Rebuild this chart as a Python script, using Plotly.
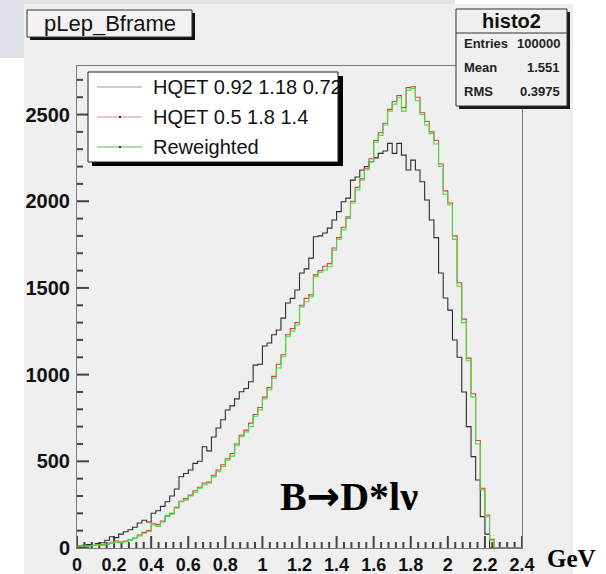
import plotly.graph_objects as go

# ---------------- data ----------------
BIN_LOW = 0.0
BIN_WIDTH = 0.025
N_BINS = 96

hqet_092 = [10, 15, 20, 15, 25, 30, 45, 65, 60, 80,
            94, 105, 120, 144, 160, 150, 200, 215, 240, 267,
            300, 340, 411, 430, 450, 488, 500, 584, 560, 640,
            692, 740, 796, 820, 860, 901, 920, 959, 1055, 1060,
            1165, 1182, 1230, 1257, 1326, 1413, 1440, 1488, 1586, 1610,
            1672, 1795, 1800, 1817, 1845, 1892, 1940, 1997, 2018, 2122,
            2140, 2180, 2200, 2228, 2250, 2276, 2290, 2334, 2276, 2334,
            2266, 2180, 2237, 2180, 2112, 2007, 1892, 1790, 1586, 1442,
            1372, 1200, 1100, 900, 700, 527, 392, 181, 80, 0,
            0, 0, 0, 0, 0, 0]

hqet_05 = [12, 10, 12, 14, 20, 18, 22, 30, 40, 35,
           40, 48, 58, 75, 90, 100, 140, 135, 155, 185,
           200, 235, 270, 285, 305, 330, 350, 375, 380, 420,
           450, 480, 515, 545, 600, 650, 680, 720, 770, 810,
           870, 925, 990, 1060, 1115, 1230, 1265, 1300, 1400, 1440,
           1460, 1575, 1600, 1625, 1640, 1730, 1790, 1850, 1910, 2000,
           2080, 2130, 2190, 2245, 2350, 2395, 2450, 2530, 2575, 2610,
           2540, 2655, 2660, 2600, 2510, 2460, 2400, 2350, 2215, 2060,
           1990, 1800, 1530, 1320, 1095, 890, 620, 345, 190, 50,
           0, 0, 0, 0, 0, 0]

reweighted = [10, 12, 8, 15, 18, 15, 22, 28, 35, 30,
              36, 45, 55, 70, 85, 95, 133, 125, 150, 180,
              195, 230, 267, 275, 300, 320, 345, 365, 375, 410,
              440, 470, 507, 530, 590, 642, 670, 700, 760, 796,
              860, 911, 980, 1038, 1103, 1218, 1250, 1286, 1391, 1420,
              1449, 1565, 1590, 1603, 1622, 1718, 1780, 1834, 1901, 1990,
              2065, 2122, 2180, 2228, 2340, 2380, 2440, 2520, 2560, 2600,
              2520, 2640, 2650, 2580, 2500, 2440, 2390, 2330, 2200, 2040,
              1980, 1780, 1510, 1300, 1080, 870, 600, 335, 180, 46,
              0, 0, 0, 0, 0, 0]

SERIES_NAMES = ["HQET 0.92 1.18 0.72", "HQET 0.5 1.8 1.4", "Reweighted"]
SERIES_DATA = [hqet_092, hqet_05, reweighted]
SERIES_COLORS = ["#2e2e2e", "#e23b3b", "#3fe03f"]
LEGEND_COLORS = ["#9a9a9a", "#e08a8a", "#4cc64c"]

X_TICKS = [0, 0.2, 0.4, 0.6, 0.8, 1, 1.2, 1.4, 1.6, 1.8, 2, 2.2, 2.4]
X_TICK_TEXT = ["0", "0.2", "0.4", "0.6", "0.8", "1", "1.2", "1.4", "1.6", "1.8", "2", "2.2", "2.4"]
X_MINOR_DIV = 5
Y_TICKS = [0, 500, 1000, 1500, 2000, 2500]
Y_TICK_TEXT = ["0", "500", "1000", "1500", "2000", "2500"]
Y_MINOR_DIV = 5

HIST_TITLE = "pLep_Bframe"
STATS_TITLE = "histo2"
STATS_LABELS = ["Entries", "Mean", "RMS"]
STATS_VALUES = ["100000", "1.551", "0.3975"]
PROCESS_LABEL = "B<span style='font-family:DejaVu Sans'>\u2192</span>D*l\u03bd"
X_UNIT = "GeV"

X_RANGE = [0, 2.4]
Y_RANGE = [0, 2780]

# ---------------- layout geometry (pixels) ----------------
W, H = 606, 574
L, R, T, B = 77, 522, 66, 548
MAJOR_LEN, MINOR_LEN = 12, 6
TICK_COLOR = "#444444"


def fx(p):
    return (p - L) / (R - L)


def fy(p):
    return (B - p) / (B - T)


edges = [BIN_LOW + BIN_WIDTH * i for i in range(N_BINS + 1)]

fig = go.Figure()

# axis tick marks inside the frame, as a line trace on the axes' own scales
x_step = X_TICKS[1] - X_TICKS[0]
y_step = Y_TICKS[1] - Y_TICKS[0]
y_per_px = (Y_RANGE[1] - Y_RANGE[0]) / (B - T)
x_per_px = (X_RANGE[1] - X_RANGE[0]) / (R - L)
tx, ty = [], []
for i, xv in enumerate(X_TICKS):
    marks = [(xv, MAJOR_LEN)]
    if i < len(X_TICKS) - 1:
        marks += [(xv + x_step * m / X_MINOR_DIV, MINOR_LEN) for m in range(1, X_MINOR_DIV)]
    for xm, ln in marks:
        tx += [xm, xm, None]
        ty += [Y_RANGE[0], Y_RANGE[0] + ln * y_per_px, None]
for i, yv in enumerate(Y_TICKS + [Y_TICKS[-1] + y_step]):
    marks = [(yv, MAJOR_LEN)] if i < len(Y_TICKS) else []
    marks += [(yv + y_step * m / Y_MINOR_DIV, MINOR_LEN) for m in range(1, Y_MINOR_DIV)]
    for ym, ln in marks:
        if ym < Y_RANGE[1]:
            tx += [X_RANGE[0], X_RANGE[0] + ln * x_per_px, None]
            ty += [ym, ym, None]
fig.add_trace(go.Scatter(x=tx, y=ty, mode="lines", line=dict(color=TICK_COLOR, width=2),
                         showlegend=False, hoverinfo="skip", connectgaps=False, cliponaxis=False))

for name, vals, col in zip(SERIES_NAMES, SERIES_DATA, SERIES_COLORS):
    fig.add_trace(go.Scatter(
        x=edges, y=list(vals) + [vals[-1]],
        mode="lines", line=dict(color=col, width=1.1, shape="hv"),
        name=name, showlegend=False, hoverinfo="skip"))

shapes = []
annots = []


def rect(x0, y0, x1, y1, fill, line=None, lw=1, layer="above"):
    shapes.append(dict(type="rect", xref="paper", yref="paper",
                       x0=fx(x0), x1=fx(x1), y0=fy(y1), y1=fy(y0),
                       fillcolor=fill,
                       line=dict(color=line if line else fill, width=lw if line else 0),
                       layer=layer))


def text(x, y, s, size, family="Liberation Sans, Arial", weight="normal",
         xanchor="center", color="#111"):
    annots.append(dict(xref="paper", yref="paper", x=fx(x), y=fy(y), text=s,
                       showarrow=False, xanchor=xanchor, yanchor="middle",
                       font=dict(size=size, family=family, weight=weight, color=color)))


# slide background pieces
rect(0, 0, 24, 58, "#dfe2e8", layer="below")
rect(0, 0, 455, 4, "#dfe2e8", layer="below")
rect(24, 4, 573, 574, "#efefef", layer="below")

# title box
rect(30, 13, 195, 40, "#111111")
rect(27, 10, 192, 37, "#f2f2f2", line="#333333")
text(110, 23, HIST_TITLE, 22)

# legend box
rect(92, 76, 343, 166, "#000000")
rect(88, 72, 338, 162, "#ffffff", line="#222222")
for k, (name, lc) in enumerate(zip(SERIES_NAMES, LEGEND_COLORS)):
    yy = 87 + 30 * k
    shapes.append(dict(type="line", xref="paper", yref="paper",
                       x0=fx(97), x1=fx(142), y0=fy(yy), y1=fy(yy),
                       line=dict(color=lc, width=1.2)))
    if k > 0:
        rect(119, yy - 1, 121, yy + 1, "#333333")
    text(151, yy, name, 20, xanchor="left")

# stats box
rect(459, 12, 570, 109, "#1a1a1a")
rect(456, 9, 567, 106, "#f0f0f0", line="#333333")
shapes.append(dict(type="line", xref="paper", yref="paper",
                   x0=fx(456), x1=fx(567), y0=fy(33), y1=fy(33),
                   line=dict(color="#333333", width=1)))
text(511.5, 21, STATS_TITLE, 20, weight="bold")
for k, (lab, val) in enumerate(zip(STATS_LABELS, STATS_VALUES)):
    yy = 44 + 23.5 * k
    text(462, yy, lab, 13, weight="bold", xanchor="left", color="#222")
    text(562, yy, val, 13, weight="bold", xanchor="right", color="#222")

# process label and unit
text(349, 496, PROCESS_LABEL, 40, family="Liberation Serif, Times New Roman", weight="bold", color="#000")
text(571, 558, X_UNIT, 25, family="Liberation Serif, Times New Roman", weight="bold", color="#000")

axis_common = dict(showgrid=False, zeroline=False, showline=True, mirror=True,
                   linecolor="#7a7a7a", linewidth=1, ticks="",
                   automargin=False)

fig.update_layout(
    template="none",
    width=W, height=H,
    margin=dict(l=L, r=W - R, t=T, b=H - B, pad=0),
    paper_bgcolor="#ffffff", plot_bgcolor="#f0f0f0",
    shapes=shapes, annotations=annots,
    xaxis=dict(range=X_RANGE, tickvals=X_TICKS, ticktext=X_TICK_TEXT,
               tickfont=dict(family="Liberation Sans, Arial", size=18, weight="bold", color="#111"),
               **axis_common),
    yaxis=dict(range=Y_RANGE, tickvals=Y_TICKS, ticktext=Y_TICK_TEXT,
               tickfont=dict(family="Liberation Sans, Arial", size=20, weight="bold", color="#111"),
               ticklabelstandoff=2,
               **axis_common),
)

fig.write_html("out.html", config={"displayModeBar": False, "staticPlot": True},
               post_script="document.body.style.margin='0';document.body.style.overflow='hidden';")
